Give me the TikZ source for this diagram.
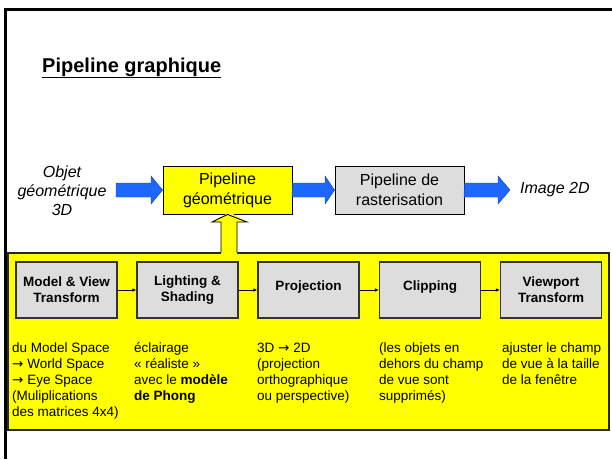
\documentclass[tikz,border=0pt]{standalone}
\usepackage{fontspec}
\setmainfont{Liberation Sans}
\newfontfamily\arrfont{DejaVu Sans}
\newcommand{\rarr}{{\arrfont →}}
\usetikzlibrary{arrows.meta}
\definecolor{ylw}{RGB}{255,255,0}
\definecolor{boxgrey}{RGB}{221,221,221}
\definecolor{arrblue}{RGB}{28,104,255}
\definecolor{arrblueline}{RGB}{20,60,160}
\tikzset{
  topbox/.style={draw=black, line width=0.9pt, minimum width=129pt, minimum height=48pt, inner sep=0pt, align=center, font=\fontsize{16}{20}\selectfont},
  stagebox/.style={draw=black!80, line width=1.1pt, fill=boxgrey, minimum width=101pt, minimum height=56pt, inner sep=0pt, align=center, font=\fontsize{13.5}{16}\selectfont\bfseries},
  desc/.style={anchor=north west, align=left, inner sep=0pt, font=\fontsize{13.5}{16.1}\selectfont},
  bluearr/.style={fill=arrblue, draw=arrblueline, line width=0.4pt},
  smallarr/.style={-{Latex[length=4pt,width=3.5pt]}, line width=0.8pt, black},
}
\begin{document}
\begin{tikzpicture}[x=1pt,y=-1pt]
\useasboundingbox (0,0) rectangle (612,459);
% frame
\draw[line width=3pt] (612,9) -- (5.5,9) -- (5.5,459);
% title
\node[anchor=base west, inner sep=0pt, font=\fontsize{20}{24}\selectfont\bfseries] (title) at (42,72) {\underline{Pipeline graphique}};
% top row
\node[align=center, inner sep=0pt, font=\fontsize{16}{19}\selectfont\itshape] (obj) at (62,191) {Objet\\géométrique\\3D};
\node[topbox, fill=ylw] (geom) at (227.5,190) {Pipeline\\géométrique};
\node[topbox, fill=boxgrey] (rast) at (399.5,190) {Pipeline de\\rasterisation};
\node[anchor=west, inner sep=0pt, font=\fontsize{16}{19}\selectfont\itshape] (img) at (520,190) {Image 2D};
% blue arrows
\coordinate (a1s) at (116,190);
\draw[bluearr] (a1s) ++(0,-7) -- (151,183) -- (151,176) -- (geom.west) -- (151,204) -- (151,197) -- (116,197) -- cycle;
\draw[bluearr] (geom.east) ++(0,-7) -- (325,183) -- (325,176) -- (rast.west) -- (325,204) -- (325,197) -- (292,197) -- cycle;
\coordinate (a3e) at (510,190);
\draw[bluearr] (rast.east) ++(0,-7) -- (498,183) -- (498,176) -- (a3e) -- (498,204) -- (498,197) -- (464,197) -- cycle;
% yellow panel
\node[draw=black!85, line width=1.5pt, fill=ylw, minimum width=601pt, minimum height=177pt, inner sep=0pt] (panel) at (308.5,341.5) {};
% yellow up arrow
\fill[ylw] (221,255) -- (221,222) -- (212,222) -- (229.5,212) -- (247,222) -- (237,222) -- (237,255) -- cycle;
\draw[line width=0.9pt, line join=miter] (221,252.5) -- (221,222) -- (212,222) -- (geom.south) -- (247,222) -- (237,222) -- (237,252.5);
% stages
\node[stagebox] (s1) at (66.5,290) {Model \& View\\Transform};
\node[stagebox] (s2) at (187.5,290) {Lighting \&\\Shading};
\node[stagebox, text depth=9pt] (s3) at (308.5,290) {Projection};
\node[stagebox, text depth=9pt] (s4) at (430,290) {Clipping};
\node[stagebox] (s5) at (551,290) {Viewport\\Transform};
\draw[smallarr] (s1.east) -- (s2.west);
\draw[smallarr] (s2.east) -- (s3.west);
\draw[smallarr] (s3.east) -- (s4.west);
\draw[smallarr] (s4.east) -- (s5.west);
% descriptions
\node[desc] (d1) at (12,340.7) {\strut du Model Space\\\rarr{} World Space\\\rarr{} Eye Space\\(Muliplications\\des matrices 4x4)};
\node[desc] (d2) at (134,340.7) {\strut éclairage\\« réaliste »\\avec le \textbf{modèle}\\\textbf{de Phong}};
\node[desc] (d3) at (257,340.7) {\strut 3D \rarr{} 2D\\(projection\\orthographique\\ou perspective)};
\node[desc] (d4) at (379,340.7) {\strut (les objets en\\dehors du champ\\de vue sont\\supprimés)};
\node[desc] (d5) at (502,340.7) {\strut ajuster le champ\\de vue à la taille\\de la fenêtre};
\end{tikzpicture}
\end{document}
